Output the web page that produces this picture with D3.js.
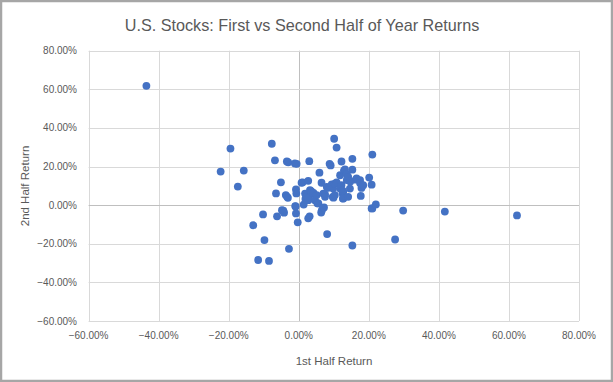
<!DOCTYPE html>
<html>
<head>
<meta charset="utf-8">
<script src="https://cdn.jsdelivr.net/npm/d3@7"></script>
<style>
  body { margin: 0; background: #fff; }
  svg text { font-family: "Liberation Sans", Arial, sans-serif; fill: #595959; }
</style>
</head>
<body>
<svg width="613" height="382"></svg>
<script>
// 1st half return (%) and 2nd half return (%) for each year
const firstHalf = [
  -43.5, -22.3, -19.5, -15.7, -17.4, -13, -11.6, -10.2, -9.8, -8.5,
  -7.7, -6.8, -6.5, -6.2, -5.1, -4.8, -4.4, -4.2, -3.7, -3.4,
  -3.3, -3.1, -3, -2.8, -1.1, -1, -0.9, -0.8, -0.8, -0.7,
  -0.6, -0.3, 0.8, 1.1, 1.4, 1.8, 1.9, 2.3, 2.7, 2.7,
  2.7, 2.8, 3, 3.1, 3.2, 3.5, 3.7, 4.1, 4.2, 4.6,
  5.1, 5.3, 5.6, 5.9, 6.4, 6.5, 6.6, 7, 7.2, 7.5,
  7.5, 8, 8.1, 8.2, 8.8, 9.1, 9.4, 9.7, 9.8, 9.9,
  10.1, 10.3, 10.3, 10.8, 10.8, 11.8, 11.8, 12.2, 12.2, 12.5,
  12.5, 12.6, 12.7, 12.7, 12.9, 13.2, 13.7, 13.7, 14.1, 14.1,
  14.6, 14.7, 15.3, 15.3, 15.3, 16.3, 16.5, 17.5, 17.5, 17.7,
  17.9, 18.4, 20.1, 20.8, 20.8, 21, 21, 22, 27.5, 29.8,
  41.7, 62.3
];
const secondHalf = [
  61.8, 17.4, 29.3, 17.9, 9.6, -10.4, -28.4, -4.8, -18.1, -28.9,
  31.8, 23.2, 6.1, -5.8, 11.8, -2.6, -2.9, -3.9, 5.2, 22.6,
  4.3, 3.8, 22.2, -22.6, 21.6, -0.5, -0.7, 8.1, -4.3, 6.1,
  21.4, -8.9, 11.6, 11.8, 0.3, 6, 3.2, 4.3, 12.6, -6.8,
  2.6, 3.6, 22.8, -5.8, 7.8, 7.2, 6.9, 6, 6.3, 2.6,
  5.2, 1, 0.9, 16.8, -3.8, 11.6, -2.6, 6, -1.2, 5.6,
  4.3, 9.5, -15, 8.9, 21.4, 20.6, 10.7, 4.3, 8.6, 3.9,
  34.4, 11.2, 5.2, 29.8, 11.8, 15.5, 8.6, 22.6, 10.4, 6,
  7.5, 3.4, 6.9, 3.5, 17.9, 18.5, 16.2, 13, 14.7, 4.3,
  8.6, 12.3, 24, 18.4, -20.9, 13.2, 13.8, 13, 11.5, 4.8,
  8.9, 10.3, 14.3, 10.6, -1.7, 26.2, -1.7, 0.4, -17.8, -2.8,
  -3.3, -5.3
];
const ticks = [-60, -40, -20, 0, 20, 40, 60, 80];

const points = firstHalf.map((x, i) => ({ x: x, y: secondHalf[i] }));

const svg = d3.select("svg");
const width = +svg.attr("width");
const height = +svg.attr("height");

const x = d3.scaleLinear().domain([-60, 80]).range([88.6, 579]);
const y = d3.scaleLinear().domain([-60, 80]).range([321, 50.7]);

const fmt = d => d3.format(".2f")(d) + "%";

// outer frame
svg.append("rect")
  .attr("x", 1).attr("y", 1)
  .attr("width", width - 2).attr("height", height - 2)
  .attr("fill", "#fff")
  .attr("stroke", "#a6a6a6")
  .attr("stroke-width", 2.5);

// gridlines
svg.append("g")
  .selectAll("line")
  .data(ticks)
  .enter().append("line")
  .attr("x1", d => Math.round(x(d)) + 0.5)
  .attr("x2", d => Math.round(x(d)) + 0.5)
  .attr("y1", y(80))
  .attr("y2", y(-60))
  .attr("stroke", d => d === 0 ? "#bfbfbf" : "#d9d9d9");

svg.append("g")
  .selectAll("line")
  .data(ticks)
  .enter().append("line")
  .attr("y1", d => Math.round(y(d)) + 0.5)
  .attr("y2", d => Math.round(y(d)) + 0.5)
  .attr("x1", x(-60))
  .attr("x2", x(80))
  .attr("stroke", d => d === 0 ? "#bfbfbf" : "#d9d9d9");

// tick labels
svg.append("g")
  .selectAll("text")
  .data(ticks)
  .enter().append("text")
  .attr("x", d => x(d))
  .attr("y", 339)
  .attr("text-anchor", "middle")
  .style("font-size", "10px")
  .text(fmt);

svg.append("g")
  .selectAll("text")
  .data(ticks)
  .enter().append("text")
  .attr("x", 77)
  .attr("y", d => y(d) + 3.5)
  .attr("text-anchor", "end")
  .style("font-size", "10px")
  .text(fmt);

// points
svg.append("g")
  .selectAll("circle")
  .data(points)
  .enter().append("circle")
  .attr("cx", d => x(d.x))
  .attr("cy", d => y(d.y))
  .attr("r", 3.9)
  .attr("fill", "#4472c4");

// titles
svg.append("text")
  .attr("x", 302)
  .attr("y", 31)
  .attr("text-anchor", "middle")
  .style("font-size", "16.2px")
  .text("U.S. Stocks: First vs Second Half of Year Returns");

svg.append("text")
  .attr("x", 334)
  .attr("y", 365)
  .attr("text-anchor", "middle")
  .style("font-size", "11.5px")
  .text("1st Half Return");

svg.append("text")
  .attr("transform", "translate(29,186) rotate(-90)")
  .attr("text-anchor", "middle")
  .style("font-size", "11.5px")
  .text("2nd Half Return");
</script>
</body>
</html>
